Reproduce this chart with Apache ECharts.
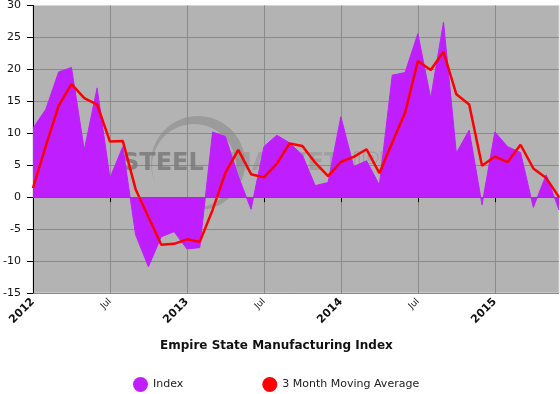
<!DOCTYPE html>
<html><head><meta charset="utf-8">
<script src="https://cdn.jsdelivr.net/npm/echarts@6/dist/echarts.min.js"></script>
<style>html,body{margin:0;padding:0;background:#fff}#c{width:560px;height:394px}</style>
</head><body><div id="c"></div>
<script>
const months = [
  '2012-01','2012-02','2012-03','2012-04','2012-05','2012-06','2012-07','2012-08','2012-09','2012-10','2012-11','2012-12',
  '2013-01','2013-02','2013-03','2013-04','2013-05','2013-06','2013-07','2013-08','2013-09','2013-10','2013-11','2013-12',
  '2014-01','2014-02','2014-03','2014-04','2014-05','2014-06','2014-07','2014-08','2014-09','2014-10','2014-11','2014-12',
  '2015-01','2015-02','2015-03','2015-04','2015-05','2015-06'
];
const indexValues = [
  10.8, 13.75, 19.6, 20.3, 7.4, 17.1, 3.0, 7.9, -5.9, -10.9, -6.2, -5.4,
  -8.1, -7.9, 10.2, 9.5, 3.3, -1.9, 7.9, 9.7, 8.5, 6.6, 1.8, 2.3,
  12.6, 4.8, 5.7, 1.9, 19.1, 19.5, 25.6, 15.5, 27.4, 6.9, 10.5, -1.2,
  10.2, 7.9, 7.0, -1.6, 3.5, -2.0
];
const movingAverage = [
  1.4, 8.0, 14.3, 17.7, 15.5, 14.5, 8.7, 8.8, 1.25, -3.1, -7.45, -7.3,
  -6.6, -7.0, -2.0, 3.8, 7.4, 3.6, 3.1, 5.2, 8.4, 8.0, 5.4, 3.3,
  5.5, 6.3, 7.5, 3.75, 8.5, 13.2, 21.3, 19.9, 22.75, 16.1, 14.5, 4.9,
  6.35, 5.5, 8.2, 4.5, 3.0, 0.0
];
const tickMonths = ['2012-01','2012-07','2013-01','2013-07','2014-01','2014-07','2015-01'];
const tickLabels = ['2012','Jul','2013','Jul','2014','Jul','2015'];
const yMin = -15, yMax = 30, yStep = 5;
const seriesNames = ['Index', '3 Month Moving Average'];
const chartTitle = 'Empire State Manufacturing Index';

const FONT = '"DejaVu Sans", Verdana, sans-serif';
const isTick = (i, v) => tickMonths.indexOf(v) >= 0;
const chart = echarts.init(document.getElementById('c'), null, {renderer: 'canvas'});
const nLines = (yMax - yMin) / yStep + 1;
const hColors = [];
for (let k = 0; k < nLines; k++) hColors.push(k === nLines - 1 ? '#d6d6d6' : '#8a8a8a');

// watermark crescent outline (decoration only)
const crescentPts = [];
for (let a = 0; a <= 72; a++) {
  const t = Math.PI + a * Math.PI * 2 / 72;
  crescentPts.push([198 + 47 * Math.cos(t), 163 + 47 * Math.sin(t)]);
}
for (let a = 0; a <= 72; a++) {
  const t = Math.PI - a * Math.PI * 2 / 72;
  crescentPts.push([194 + 42 * Math.cos(t), 166 + 42 * Math.sin(t)]);
}

chart.setOption({
  animation: false,
  backgroundColor: '#ffffff',
  title: {
    text: chartTitle, left: 160, top: 340, padding: 0,
    textStyle: {fontFamily: FONT, fontSize: 12, fontWeight: 'bold', color: '#111'}
  },
  legend: {
    data: seriesNames, left: 133, top: 377, padding: 0,
    icon: 'circle', itemWidth: 15, itemHeight: 15, itemGap: 79,
    textStyle: {fontFamily: FONT, fontSize: 11, color: '#222'}
  },
  grid: {
    left: 32, right: 1, top: 5, bottom: 101, containLabel: false,
    show: true, backgroundColor: '#b3b3b3', borderColor: '#d6d6d6', borderWidth: 1
  },
  graphic: {
    elements: [
      {type: 'polygon', z: 1, silent: true,
       shape: {points: crescentPts},
       style: {fill: '#8a8a8a', opacity: 0.6}},
      {type: 'text', z: 1, silent: true, x: 122, y: 164,
       style: {text: 'STEEL', font: 'bold 24px "DejaVu Sans"', fill: '#777777', opacity: 0.8, verticalAlign: 'middle'}},
      {type: 'text', z: 1, silent: true, x: 228, y: 164,
       style: {text: 'MARKET', font: 'bold 24px "DejaVu Sans"', fill: '#8a8a8a', opacity: 0.45, verticalAlign: 'middle'}},
      {type: 'text', z: 1, silent: true, x: 342, y: 164,
       style: {text: 'UPDATE', font: 'bold 24px "DejaVu Sans"', fill: 'none', stroke: '#8a8a8a', lineWidth: 1, opacity: 0.6, verticalAlign: 'middle'}}
    ]
  },
  xAxis: {
    type: 'category', data: months, boundaryGap: false,
    axisLine: {show: true, lineStyle: {color: '#000', width: 1}},
    axisTick: {show: true, interval: isTick, length: 5, lineStyle: {color: '#000'}},
    splitLine: {show: true, interval: isTick, lineStyle: {color: '#8a8a8a', width: 1}},
    axisLabel: {
      interval: isTick, rotate: 45, margin: 7,
      formatter: (v) => {
        const t = tickLabels[tickMonths.indexOf(v)];
        return t === 'Jul' ? '{m|' + t + '}' : '{y|' + t + '}';
      },
      rich: {
        y: {fontFamily: FONT, fontSize: 11, fontWeight: 'bold', color: '#111'},
        m: {fontFamily: FONT, fontSize: 9, color: '#111'}
      }
    }
  },
  yAxis: {
    type: 'value', min: yMin, max: yMax, interval: yStep,
    axisLine: {show: true, lineStyle: {color: '#000', width: 1}},
    axisTick: {show: true, length: 6, lineStyle: {color: '#000'}},
    splitLine: {show: true, lineStyle: {color: hColors, width: 1}},
    axisLabel: {fontFamily: FONT, fontSize: 11, color: '#111', margin: 12}
  },
  series: [
    {
      name: seriesNames[0], type: 'line', data: indexValues, z: 2,
      symbol: 'none', showSymbol: false,
      itemStyle: {color: '#bf1fff'},
      lineStyle: {color: '#bf1fff', width: 1},
      areaStyle: {color: '#bf1fff', opacity: 1},
      markLine: {
        silent: true, symbol: 'none', label: {show: false},
        lineStyle: {color: '#6a587a', width: 1, type: 'solid'},
        data: [{yAxis: 0}]
      }
    },
    {
      name: seriesNames[1], type: 'line', data: movingAverage, z: 3,
      symbol: 'none', showSymbol: false,
      itemStyle: {color: '#ff0000'},
      lineStyle: {color: '#ff0000', width: 2.5}
    }
  ]
});
</script>
</body></html>
